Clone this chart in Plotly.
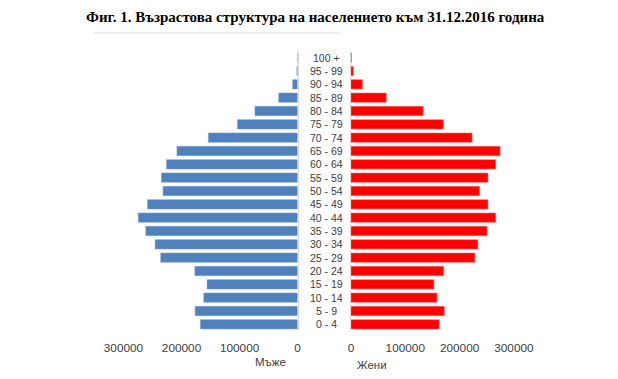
import plotly.graph_objects as go

ages = ["0 - 4", "5 - 9", "10 - 14", "15 - 19", "20 - 24", "25 - 29", "30 - 34",
        "35 - 39", "40 - 44", "45 - 49", "50 - 54", "55 - 59", "60 - 64", "65 - 69",
        "70 - 74", "75 - 79", "80 - 84", "85 - 89", "90 - 94", "95 - 99", "100 +"]
men = [167500, 176600, 161700, 156000, 177000, 235900, 245500, 261500, 274500, 258600,
       231800, 234700, 226000, 207900, 153800, 103600, 73500, 32500, 8500, 1200, 100]
women = [162500, 171800, 158300, 152700, 170700, 228200, 233800, 250500, 266500, 252300,
         236800, 252300, 266500, 274600, 223000, 170000, 133000, 65000, 21000, 4300, 1000]
ticks = [0, 100000, 200000, 300000]
tick_text = ["0", "100000", "200000", "300000"]
title = "Фиг. 1. Възрастова структура на населението към 31.12.2016 година"
men_label = "Мъже"
women_label = "Жени"

W, H = 618, 379
# horizontal paper area as rendered (measured): starts ~19.4px, ~578.6px wide
PX0, PW = 19.4, 578.6
def fx(px):
    return (px - PX0) / PW
def fy(py):
    return 1 - py / H

fig = go.Figure()
fig.add_trace(go.Bar(y=ages, x=men, orientation="h", xaxis="x", yaxis="y",
                     marker=dict(color="#4F81BD", line=dict(color="#7FA3CF", width=0.6)),
                     showlegend=False, hoverinfo="x+y"))
fig.add_trace(go.Bar(y=ages, x=women, orientation="h", xaxis="x2", yaxis="y2",
                     marker=dict(color="#FF0000", line=dict(color="#FF7070", width=0.6)),
                     showlegend=False, hoverinfo="x+y"))

catfont = dict(family="Liberation Sans, Arial, sans-serif", size=10.5, color="#404040")
tickfont = dict(family="Liberation Sans, Arial, sans-serif", size=11.8, color="#404040")
labfont = dict(family="Liberation Sans, Arial, sans-serif", size=11.5, color="#404040")
ydom = [fy(331), fy(51)]
fig.update_layout(
    width=W, height=H,
    margin=dict(l=0, r=0, t=0, b=0),
    paper_bgcolor="white", plot_bgcolor="white",
    bargap=0.3,
    xaxis=dict(domain=[fx(123), fx(297.3)], range=[300000, 0], tickvals=ticks,
               ticktext=tick_text, showgrid=False, zeroline=False, showline=False,
               tickfont=tickfont, ticks="outside", ticklen=6, tickcolor="rgba(0,0,0,0)",
               anchor="y"),
    yaxis=dict(domain=ydom, type="category", categoryorder="array", categoryarray=ages,
               range=[-0.5, 20.5], side="right", showticklabels=False, showgrid=False,
               showline=True, linecolor="#d9d9d9", linewidth=1, anchor="x", zeroline=False),
    xaxis2=dict(domain=[fx(350.7), fx(513.8)], range=[0, 300000], tickvals=ticks,
                ticktext=tick_text, showgrid=False, zeroline=False, showline=False,
                tickfont=tickfont, ticks="outside", ticklen=6, tickcolor="rgba(0,0,0,0)",
                anchor="y2"),
    yaxis2=dict(domain=ydom, type="category", categoryorder="array", categoryarray=ages,
                range=[-0.5, 20.5], side="left", showticklabels=False, showgrid=False,
                showline=True, linecolor="#d9d9d9", linewidth=1, anchor="x2", zeroline=False),
)

for a in ages:
    fig.add_annotation(x=fx(326), xref="paper", y=a, yref="y", text=a, showarrow=False,
                       xanchor="center", yanchor="middle", font=catfont)

fig.add_annotation(x=fx(315), y=fy(17), xref="paper", yref="paper", text="<b>" + title + "</b>",
                   showarrow=False, xanchor="center", yanchor="middle",
                   font=dict(family="Liberation Serif, Times New Roman, serif", size=15, color="black"))
fig.add_annotation(x=fx(270), y=fy(362), xref="paper", yref="paper", text=men_label,
                   showarrow=False, xanchor="center", yanchor="middle", font=labfont)
fig.add_annotation(x=fx(372), y=fy(365), xref="paper", yref="paper", text=women_label,
                   showarrow=False, xanchor="center", yanchor="middle", font=labfont)

fig.add_shape(type="line", xref="paper", yref="paper", x0=fx(93), x1=fx(340), y0=fy(33), y1=fy(33),
              line=dict(color="#dcdcdc", width=1))

fig.write_html("out.html", config={"displayModeBar": False},
               post_script="document.body.style.margin='0';document.body.style.overflow='hidden';")
